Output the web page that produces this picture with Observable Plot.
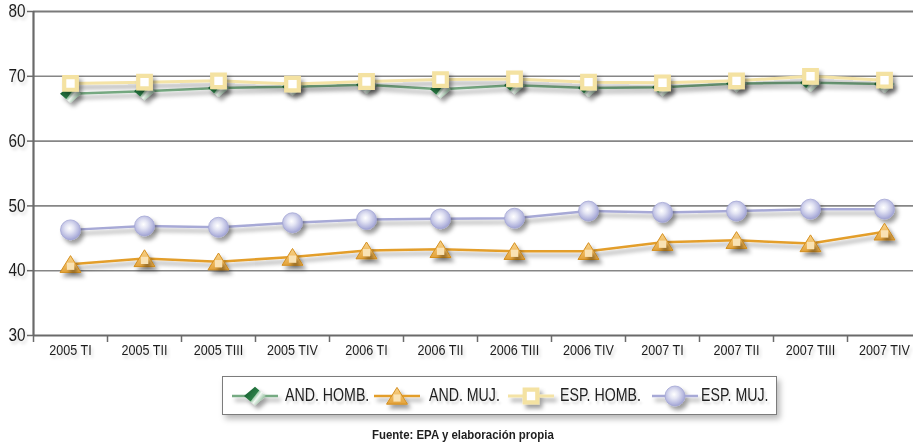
<!DOCTYPE html>
<html>
<head>
<meta charset="utf-8">
<script src="https://cdn.jsdelivr.net/npm/d3@7"></script>
<script src="https://cdn.jsdelivr.net/npm/@observablehq/plot@0.6"></script>
<style>
  html, body { margin: 0; padding: 0; background: #fff; overflow: hidden; }
  body { position: relative; width: 913px; height: 444px; font-family: "Liberation Sans", Arial, sans-serif; }
  #chart svg { display: block; max-width: none; }
  #legend {
    position: absolute; left: 222px; top: 376px; width: 553px; height: 37px;
    border: 1.5px solid #7c7c7c; background: #fff;
    box-shadow: 3px 4px 6px rgba(0,0,0,0.28);
  }
  #legend .sw { position: absolute; top: 6px; }
  #legend .lb {
    position: absolute; top: 8px; font-size: 17.5px; line-height: 20px; color: #1e1e1e; white-space: nowrap;
    transform: scaleX(0.81); transform-origin: 0 50%;
    text-shadow: 2px 3px 3px rgba(0,0,0,0.18);
  }
  #caption {
    position: absolute; left: 372px; top: 427px; white-space: nowrap;
    font-weight: bold; font-size: 13px; color: #1e1e1e;
    transform: scaleX(0.88); transform-origin: 0 50%;
  }
</style>
</head>
<body>
<div id="chart"></div>
<div id="legend"></div>
<div id="caption">Fuente: EPA y elaboración propia</div>
<script>
// Quarterly periods (x axis)
const periods = ["2005 TI", "2005 TII", "2005 TIII", "2005 TIV", "2006 TI", "2006 TII",
                 "2006 TIII", "2006 TIV", "2007 TI", "2007 TII", "2007 TIII", "2007 TIV"];
// Activity rates (%) by series
const andHomb = [67.3, 67.7, 68.2, 68.4, 68.7, 68.0, 68.6, 68.2, 68.3, 68.9, 69.0, 68.8];
const andMuj  = [41.0, 41.9, 41.4, 42.1, 43.1, 43.3, 43.0, 43.0, 44.4, 44.7, 44.2, 46.0];
const espHomb = [68.9, 69.1, 69.3, 68.8, 69.2, 69.5, 69.6, 69.1, 69.0, 69.3, 70.0, 69.4];
const espMuj  = [46.3, 46.9, 46.7, 47.4, 47.9, 48.0, 48.1, 49.2, 49.0, 49.2, 49.5, 49.5];
const seriesNames = ["AND. HOMB.", "AND. MUJ.", "ESP. HOMB.", "ESP. MUJ."];
const yTicks = [30, 40, 50, 60, 70, 80];

const rows = (values) => values.map((v, i) => ({i, v}));

// Custom marker shapes (r = half width)
const wideDiamond = {draw(ctx, size) { const r = Math.sqrt(size / Math.PI), h = r * 0.85;
  ctx.moveTo(-r, 0); ctx.lineTo(0, -h); ctx.lineTo(r, 0); ctx.lineTo(0, h); ctx.closePath(); }};
const triangle = {draw(ctx, size) { const r = Math.sqrt(size / Math.PI);
  ctx.moveTo(0, -0.82 * r); ctx.lineTo(r, 0.78 * r); ctx.lineTo(-r, 0.78 * r); ctx.closePath(); }};
const boxSquare = {draw(ctx, size) { const r = Math.sqrt(size / Math.PI) * 0.6;
  ctx.moveTo(-r, -r); ctx.lineTo(r, -r); ctx.lineTo(r, r); ctx.lineTo(-r, r); ctx.closePath(); }};
const smallSquare = {draw(ctx, size) { const r = Math.sqrt(size / Math.PI);
  ctx.moveTo(-r, -r); ctx.lineTo(r, -r); ctx.lineTo(r, r); ctx.lineTo(-r, r); ctx.closePath(); }};

const styles = {
  andHomb: {line: "#76aa82", lw: 2.5},
  andMuj:  {line: "#e39e2c", lw: 2.5},
  espHomb: {line: "#f4e3a6", lw: 3},
  espMuj:  {line: "#a7a9d6", lw: 2.5}
};

const x0 = -0.5, x1 = periods.length - 0.5;
const bounds = d3.range(periods.length + 1).map(k => k - 0.5);

const chart = Plot.plot({
  width: 913, height: 362,
  marginTop: 11, marginBottom: 27, marginLeft: 33, marginRight: -8,
  style: {fontFamily: "'Liberation Sans', Arial, sans-serif", color: "#1e1e1e", background: "transparent", overflow: "visible"},
  x: {domain: [x0, x1], axis: null, label: null},
  y: {domain: [30, 80], axis: null, label: null},
  marks: [
    Plot.ruleY([40, 50, 60, 70], {stroke: "#868686", strokeWidth: 1.6, ariaLabel: "grid"}),
    Plot.ruleY([80], {stroke: "#7a7a7a", strokeWidth: 2, ariaLabel: "grid"}),
    Plot.ruleX([x0], {stroke: "#6a6a6a", strokeWidth: 2.2, ariaLabel: "frame"}),
    Plot.ruleY([30], {stroke: "#6a6a6a", strokeWidth: 2.2, ariaLabel: "frame"}),
    Plot.axisY({ticks: yTicks, label: null, tickSize: 6, tickPadding: 2, fontSize: 18, stroke: "#6a6a6a", strokeWidth: 1.5}),
    Plot.axisX({ticks: bounds, label: null, tickSize: 7, tickFormat: () => "", stroke: "#6a6a6a", strokeWidth: 1.5}),
    Plot.axisX({ticks: d3.range(periods.length), label: null, tickSize: 0, tickPadding: 9, fontSize: 15, tickFormat: i => periods[i]}),

    // ESP. MUJ.
    Plot.line(rows(espMuj), {x: "i", y: "v", stroke: styles.espMuj.line, strokeWidth: styles.espMuj.lw}),
    Plot.dot(rows(espMuj), {x: "i", y: "v", r: 10, fill: "url(#gradCircle)", stroke: "#a3a6d4", strokeWidth: 0.8}),
    // AND. MUJ.
    Plot.line(rows(andMuj), {x: "i", y: "v", stroke: styles.andMuj.line, strokeWidth: styles.andMuj.lw}),
    Plot.dot(rows(andMuj), {x: "i", y: "v", r: 10.5, symbol: triangle, fill: "url(#gradTri)", stroke: "#d48f1f", strokeWidth: 1}),
    Plot.dot(rows(andMuj), {x: "i", y: "v", r: 3.6, dy: 2, symbol: smallSquare, fill: "#f9e2b4", stroke: "none"}),
    // AND. HOMB.
    Plot.line(rows(andHomb), {x: "i", y: "v", stroke: styles.andHomb.line, strokeWidth: styles.andHomb.lw}),
    Plot.dot(rows(andHomb), {x: "i", y: "v", r: 10.5, symbol: wideDiamond, fill: "url(#gradDiamond)", stroke: "none"}),
    // ESP. HOMB.
    Plot.line(rows(espHomb), {x: "i", y: "v", stroke: styles.espHomb.line, strokeWidth: styles.espHomb.lw}),
    Plot.dot(rows(espHomb), {x: "i", y: "v", r: 10.5, symbol: boxSquare, fill: "#ffffff", stroke: "#f4e2a2", strokeWidth: 4.2})
  ]
});
document.getElementById("chart").append(chart);

// Shared gradients and shadow filters
const svg = d3.select(chart);
const defs = svg.insert("defs", ":first-child");
function shadow(id, dx, dy, sd, op) {
  const f = defs.append("filter").attr("id", id).attr("filterUnits", "userSpaceOnUse")
    .attr("x", -50).attr("y", -50).attr("width", 1100).attr("height", 520);
  f.append("feDropShadow").attr("dx", dx).attr("dy", dy).attr("stdDeviation", sd)
    .attr("flood-color", "#000").attr("flood-opacity", op);
}
shadow("shadowMark", 3, 4, 2.2, 0.38);
shadow("shadowGrid", 2, 4, 2.5, 0.18);
shadow("shadowText", 2, 3, 1.8, 0.16);

const gc = defs.append("radialGradient").attr("id", "gradCircle").attr("cx", 0.45).attr("cy", 0.42).attr("r", 0.6);
[[0, "#ffffff"], [0.35, "#e4e5f4"], [0.8, "#b4b6de"], [1, "#9c9fd0"]].forEach(([o, c]) =>
  gc.append("stop").attr("offset", o).attr("stop-color", c));
const gt = defs.append("linearGradient").attr("id", "gradTri").attr("x1", 0).attr("y1", 0).attr("x2", 0).attr("y2", 1);
[[0, "#f7d38c"], [0.5, "#f0bc62"], [1, "#e2a23a"]].forEach(([o, c]) =>
  gt.append("stop").attr("offset", o).attr("stop-color", c));
const gd = defs.append("linearGradient").attr("id", "gradDiamond").attr("x1", 0).attr("y1", 0.3).attr("x2", 0.9).attr("y2", 0.9);
[[0, "#175f30"], [0.46, "#2c7f47"], [0.5, "#a6cfb0"], [0.62, "#f4faf5"], [1, "#5d9d6e"]].forEach(([o, c]) =>
  gd.append("stop").attr("offset", o).attr("stop-color", c));

svg.selectAll('g[aria-label="line"], g[aria-label="dot"], g[aria-label="frame"]').attr("filter", "url(#shadowMark)");
svg.selectAll('g[aria-label="grid"]').attr("filter", "url(#shadowGrid)");

// Condensed look for tick labels: squeeze each label horizontally about its anchor
function squeeze(selector, s) {
  svg.selectAll(selector).attr("filter", "url(#shadowText)").selectAll("text").each(function () {
    const x = parseFloat(this.getAttribute("x")) || 0;
    const t = this.getAttribute("transform") || "";
    this.setAttribute("transform", `${t} translate(${x},0) scale(${s},1) translate(${-x},0)`);
  });
}
squeeze('g[aria-label="x-axis tick label"]', 0.84);
squeeze('g[aria-label="y-axis tick label"]', 0.85);

// Legend
const legend = d3.select("#legend");
const swatchX = [9, 151, 285, 429];
const labelX = [62, 206, 337, 478];
const swatchDefs = [
  {line: styles.andHomb.line, lw: styles.andHomb.lw, draw: g => g.append("path").attr("d", d3.symbol(wideDiamond, Math.PI * 121)()).attr("fill", "url(#gradDiamond)")},
  {line: styles.andMuj.line, lw: styles.andMuj.lw, draw: g => {
    g.append("path").attr("d", d3.symbol(triangle, Math.PI * 110)()).attr("fill", "url(#gradTri)").attr("stroke", "#d48f1f");
    g.append("path").attr("d", d3.symbol(smallSquare, Math.PI * 13)()).attr("transform", "translate(0,2)").attr("fill", "#f9e2b4");
  }},
  {line: styles.espHomb.line, lw: styles.espHomb.lw, draw: g => g.append("path").attr("d", d3.symbol(boxSquare, Math.PI * 110)()).attr("fill", "#fff").attr("stroke", "#f4e2a2").attr("stroke-width", 4.2)},
  {line: styles.espMuj.line, lw: styles.espMuj.lw, draw: g => g.append("circle").attr("r", 10).attr("fill", "url(#gradCircle)").attr("stroke", "#a3a6d4").attr("stroke-width", 0.8)}
];
seriesNames.forEach((name, k) => {
  const s = swatchDefs[k];
  const sw = legend.append("svg").attr("class", "sw").attr("width", 48).attr("height", 28)
    .style("left", swatchX[k] + "px").style("overflow", "visible");
  const g = sw.append("g").attr("filter", "url(#shadowMark)");
  g.append("line").attr("x1", 0).attr("x2", 46).attr("y1", 13).attr("y2", 13).attr("stroke", s.line).attr("stroke-width", s.lw);
  s.draw(g.append("g").attr("transform", "translate(23,13)"));
  legend.append("div").attr("class", "lb").style("left", labelX[k] + "px").text(name);
});
</script>
</body>
</html>
